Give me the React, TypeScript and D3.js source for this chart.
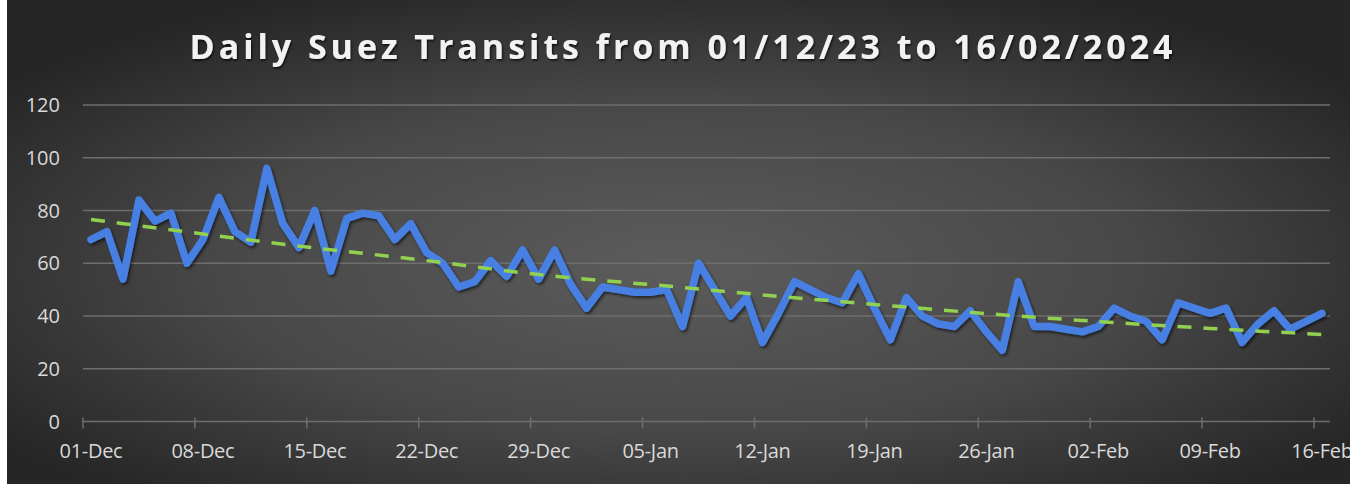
import React from "react";
import * as d3 from "d3";

const startDate = new Date(2023, 11, 1);
const endDate = new Date(2024, 1, 16);

const transits: number[] = [
  69, 72, 54, 84, 76, 79, 60, 69, 85, 72,
  68, 96, 75, 66, 80, 57, 77, 79, 78, 69,
  75, 64, 60, 51, 53, 61, 55, 65, 54, 65,
  52, 43, 51, 50, 49, 49, 50, 36, 60, 50,
  40, 47, 30, 41, 53, 50, 47, 45, 56, 43,
  31, 47, 40, 37, 36, 42, 34, 27, 53, 36,
  36, 35, 34, 36, 43, 40, 38, 31, 45, 43,
  41, 43, 30, 37, 42, 35, 38, 41,
];

// trendline values at each weekly tick date
const trendValues: number[] = [76.6, 71.1, 65.8, 61.0, 55.7, 51.9, 48.0, 44.4, 40.9, 37.9, 35.3, 33.0];

const tickLabels = [
  "01-Dec", "08-Dec", "15-Dec", "22-Dec", "29-Dec", "05-Jan",
  "12-Jan", "19-Jan", "26-Jan", "02-Feb", "09-Feb", "16-Feb",
];

const yTicks = [0, 20, 40, 60, 80, 100, 120];

const titleText = "Daily Suez Transits from 01/12/23 to 16/02/2024";

const W = 1350;
const H = 484;
const fmt = d3.timeFormat("%d-%b");

export default function App() {
  const dates = d3.timeDay.range(startDate, d3.timeDay.offset(endDate, 1));
  const cats = dates.map((d) => fmt(d));

  const x = d3.scaleBand<string>().domain(cats).range([83, 1330]).paddingInner(0).paddingOuter(0);
  const bw = x.bandwidth();
  const cx = (c: string) => (x(c) as number) + bw / 2;
  const y = d3.scaleLinear().domain([0, 120]).range([421.5, 105]);

  const pts: [number, number][] = transits.map((v, i) => [cx(cats[i]), y(v)]);
  const line = d3.line<[number, number]>().x((d) => d[0]).y((d) => d[1]);
  const curve = d3.line<[number, number]>().x((d) => d[0]).y((d) => d[1]).curve(d3.curveNatural);

  const trend: [number, number][] = trendValues.map((v, k) => [cx(tickLabels[k]), y(v)]);

  const [x0, x1] = x.range();

  return (
    <div style={{ position: "fixed", left: 0, top: 0, width: W, height: H }}>
      <svg width={W} height={H} style={{ display: "block" }}>
        <defs>
          <radialGradient id="bg" cx="0.5" cy="0.55" r="0.62">
            <stop offset="0" stopColor="#5c5c5c" />
            <stop offset="0.55" stopColor="#484848" />
            <stop offset="1" stopColor="#262626" />
          </radialGradient>
          <filter id="shadow" x="-5%" y="-20%" width="110%" height="140%">
            <feDropShadow dx="1.5" dy="2" stdDeviation="1.5" floodColor="#000" floodOpacity="0.6" />
          </filter>
          <filter id="tshadow" x="-5%" y="-30%" width="110%" height="160%">
            <feDropShadow dx="1" dy="1.5" stdDeviation="1.2" floodColor="#000" floodOpacity="0.8" />
          </filter>
        </defs>
        <rect x={0} y={0} width={W} height={H} fill="#ffffff" />
        <rect x={7} y={0} width={W - 7} height={H} fill="url(#bg)" />

        <text
          x={681}
          y={59}
          textAnchor="middle"
          fontFamily="'Open Sans', sans-serif"
          fontWeight={700}
          fontSize={34}
          fill="#f2f2f2"
          textLength={983}
          lengthAdjust="spacing"
          filter="url(#tshadow)"
        >
          {titleText}
        </text>

        {yTicks.map((t) => (
          <g key={t}>
            <line x1={x0} x2={x1} y1={y(t)} y2={y(t)} stroke="#6e6e6e" strokeWidth={1.5} />
            <text
              x={60}
              y={y(t)}
              dy="0.36em"
              textAnchor="end"
              fontFamily="'Open Sans', sans-serif"
              fontSize={20}
              fill="#d9d9d9"
            >
              {t}
            </text>
          </g>
        ))}

        {tickLabels.map((lab) => (
          <g key={lab}>
            <line
              x1={x(lab) as number}
              x2={x(lab) as number}
              y1={y(0) - 4}
              y2={y(0) + 7}
              stroke="#6e6e6e"
              strokeWidth={1.5}
            />
            <text
              x={cx(lab)}
              y={458}
              textAnchor="middle"
              fontFamily="'Open Sans', sans-serif"
              fontSize={20}
              letterSpacing={-0.3}
              fill="#d9d9d9"
            >
              {lab}
            </text>
          </g>
        ))}

        <path
          d={line(pts) as string}
          fill="none"
          stroke="#4680e2"
          strokeWidth={7.5}
          strokeLinejoin="round"
          strokeLinecap="round"
          filter="url(#shadow)"
        />
        <path
          d={curve(trend) as string}
          fill="none"
          stroke="#92d050"
          strokeWidth={3.5}
          strokeDasharray="14 12"
        />
      </svg>
    </div>
  );
}
